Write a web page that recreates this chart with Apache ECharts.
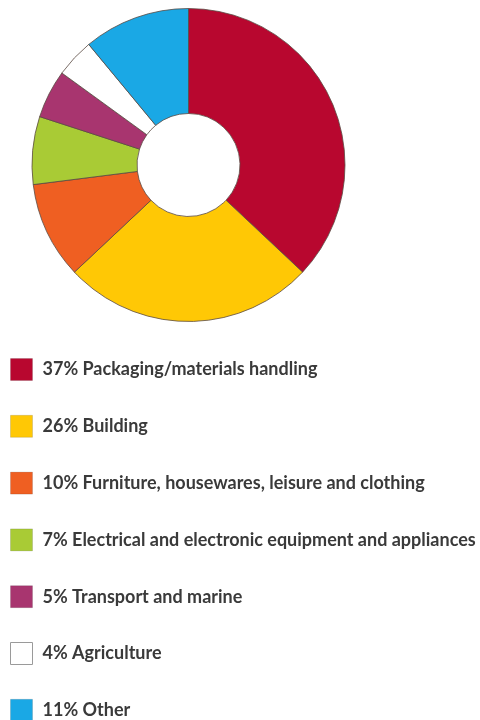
<!DOCTYPE html>
<html>
<head>
<meta charset="utf-8">
<style>
  html, body { margin: 0; padding: 0; background: #ffffff; }
  #chart { width: 480px; height: 720px; }
</style>
<script src="https://cdn.jsdelivr.net/npm/echarts@6/dist/echarts.min.js"></script>
</head>
<body>
<div id="chart"></div>
<script>
// Plastics demand by end-use sector (share of total, %)
const categories = [
  'Packaging/materials handling',
  'Building',
  'Furniture, housewares, leisure and clothing',
  'Electrical and electronic equipment and appliances',
  'Transport and marine',
  'Agriculture',
  'Other'
];
const shares = [37, 26, 10, 7, 5, 4, 11];
const colors = ['#b8072f', '#ffc805', '#ef5f22', '#a9cb35', '#a8356f', '#ffffff', '#1aa8e5'];

const chart = echarts.init(document.getElementById('chart'), null, { renderer: 'canvas' });

const pieData = categories.map((name, i) => ({
  name: name,
  value: shares[i],
  itemStyle: { color: colors[i] }
}));

const legendData = categories.map((name, i) => ({
  name: name,
  itemStyle: {
    color: colors[i],
    borderColor: i === 5 ? '#9a9a9a' : 'rgba(0,0,0,0.12)',
    borderWidth: 1
  }
}));

chart.setOption({
  animation: false,
  backgroundColor: '#ffffff',
  legend: {
    orient: 'vertical',
    left: 10,
    top: 358,
    height: 400,
    padding: 0,
    itemWidth: 22,
    itemHeight: 22,
    itemGap: 33.8,
    icon: 'rect',
    selectedMode: false,
    data: legendData,
    formatter: function (name) {
      return shares[categories.indexOf(name)] + '% ' + name;
    },
    textStyle: {
      fontFamily: 'Lato',
      fontSize: 18,
      fontWeight: 'bold',
      color: '#3a3a3a',
      lineHeight: 22,
      padding: [0, 0, 0, 5]
    }
  },
  series: [{
    type: 'pie',
    center: [188.5, 165],
    radius: [51.5, 156.5],
    startAngle: 90,
    clockwise: true,
    label: { show: false },
    labelLine: { show: false },
    emphasis: { disabled: true },
    itemStyle: {
      borderColor: '#5b4a42',
      borderWidth: 0.8
    },
    data: pieData
  }]
});
</script>
</body>
</html>
